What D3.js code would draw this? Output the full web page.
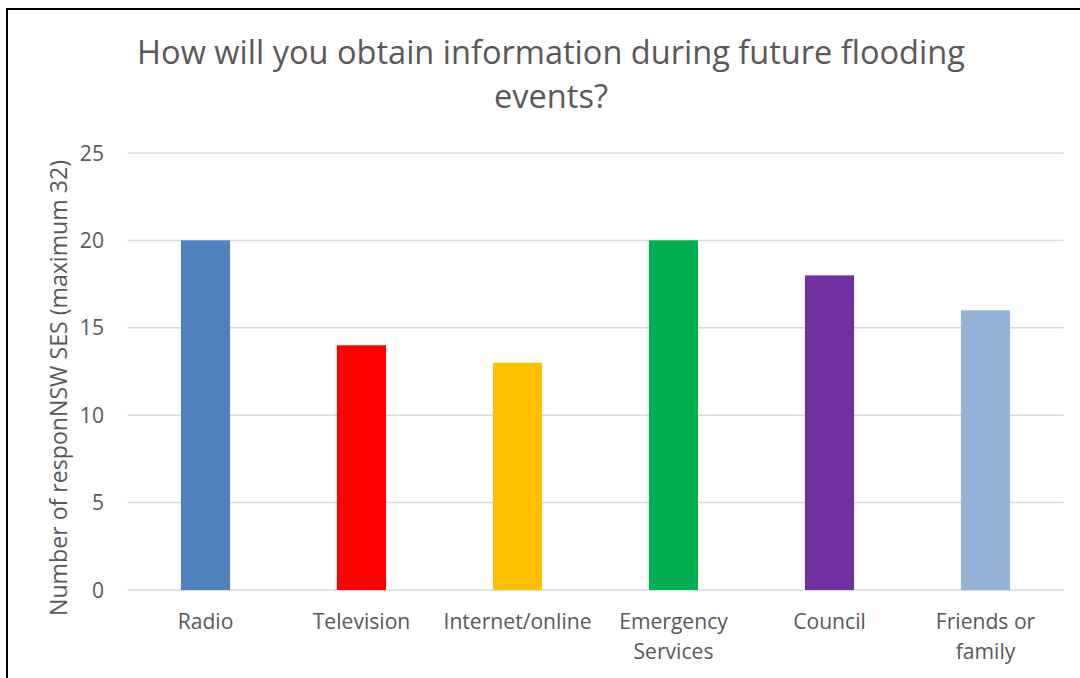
<!DOCTYPE html>
<html>
<head>
<meta charset="utf-8">
<script src="https://cdn.jsdelivr.net/npm/d3@7"></script>
<style>
  html, body { margin: 0; padding: 0; background: #fff; }
  svg { display: block; }
  text { font-family: "Open Sans", sans-serif; fill: #595959; }
</style>
</head>
<body>
<svg id="chart" width="1080" height="678"></svg>
<script>
// Survey responses: sources of information during future flooding events
const categories = ["Radio", "Television", "Internet/online", "Emergency Services", "Council", "Friends or family"];
const categoryLines = [["Radio"], ["Television"], ["Internet/online"], ["Emergency", "Services"], ["Council"], ["Friends or", "family"]];
const responses = [20, 14, 13, 20, 18, 16];
const barColors = ["#4F81BD", "#FF0000", "#FFC000", "#00B050", "#7030A0", "#95B3D7"];
const yTicks = [0, 5, 10, 15, 20, 25];
const titleLines = ["How will you obtain information during future flooding", "events?"];
const yAxisTitle = "Number of responNSW SES (maximum 32)";

const svg = d3.select("#chart");
const W = 1080, H = 678;
const margin = { left: 127.5, right: 16.5, top: 153, bottom: 88 };

// scale a text node's font size so that it spans the given width
function fitWidth(sel, target) {
  sel.each(function () {
    const node = this;
    const size = parseFloat(node.style.fontSize);
    const w = node.getComputedTextLength();
    if (w > 0) node.style.fontSize = (size * target / w).toFixed(2) + "px";
  });
}

const x = d3.scaleBand()
  .domain(categories)
  .range([margin.left, W - margin.right])
  .paddingInner(0.685)
  .paddingOuter(0.3425);

const y = d3.scaleLinear()
  .domain([0, 25])
  .range([H - margin.bottom, margin.top]);

// frame lines (top and left edges)
svg.append("line").attr("x1", 7).attr("x2", W).attr("y1", 9).attr("y2", 9)
  .attr("stroke", "#000").attr("stroke-width", 2);
svg.append("line").attr("x1", 7).attr("x2", 7).attr("y1", 8).attr("y2", H)
  .attr("stroke", "#000").attr("stroke-width", 2);

// horizontal gridlines
svg.append("g")
  .selectAll("line")
  .data(yTicks)
  .join("line")
  .attr("x1", margin.left)
  .attr("x2", W - margin.right)
  .attr("y1", d => y(d))
  .attr("y2", d => y(d))
  .attr("stroke", "#D9D9D9")
  .attr("stroke-width", 1.5);

// category labels (font size set from the widest single-line label)
const labelSize = (() => {
  const probe = svg.append("text").style("font-size", "20px").text("Internet/online");
  fitWidth(probe, 148);
  const s = probe.node().style.fontSize;
  probe.remove();
  return s;
})();

// y tick labels
svg.append("g")
  .selectAll("text")
  .data(yTicks)
  .join("text")
  .attr("x", 104)
  .attr("y", d => y(d))
  .attr("dy", "0.36em")
  .attr("text-anchor", "end")
  .style("font-size", labelSize)
  .text(d => d);

// bars
svg.append("g")
  .selectAll("rect")
  .data(responses)
  .join("rect")
  .attr("x", (d, i) => x(categories[i]))
  .attr("width", x.bandwidth())
  .attr("y", d => y(d))
  .attr("height", d => y(0) - y(d))
  .attr("fill", (d, i) => barColors[i]);

const xl = svg.append("g")
  .selectAll("text")
  .data(categories)
  .join("text")
  .attr("text-anchor", "middle")
  .attr("transform", d => `translate(${x(d) + x.bandwidth() / 2},629)`)
  .style("font-size", labelSize);
xl.selectAll("tspan")
  .data((d, i) => categoryLines[i])
  .join("tspan")
  .attr("x", 0)
  .attr("y", (d, i) => i * 30)
  .text(d => d);

// y axis title
svg.append("text")
  .attr("transform", "translate(67,388) rotate(-90)")
  .attr("text-anchor", "middle")
  .style("font-size", "21px")
  .text(yAxisTitle)
  .call(fitWidth, 456);

// chart title
const title = svg.append("g")
  .selectAll("text")
  .data(titleLines)
  .join("text")
  .attr("x", 551)
  .attr("y", (d, i) => 64 + i * 44)
  .attr("text-anchor", "middle")
  .style("font-size", "30px")
  .text(d => d);
fitWidth(title.filter((d, i) => i === 0), 828);
title.filter((d, i) => i === 1).style("font-size", title.node().style.fontSize);
</script>
</body>
</html>
